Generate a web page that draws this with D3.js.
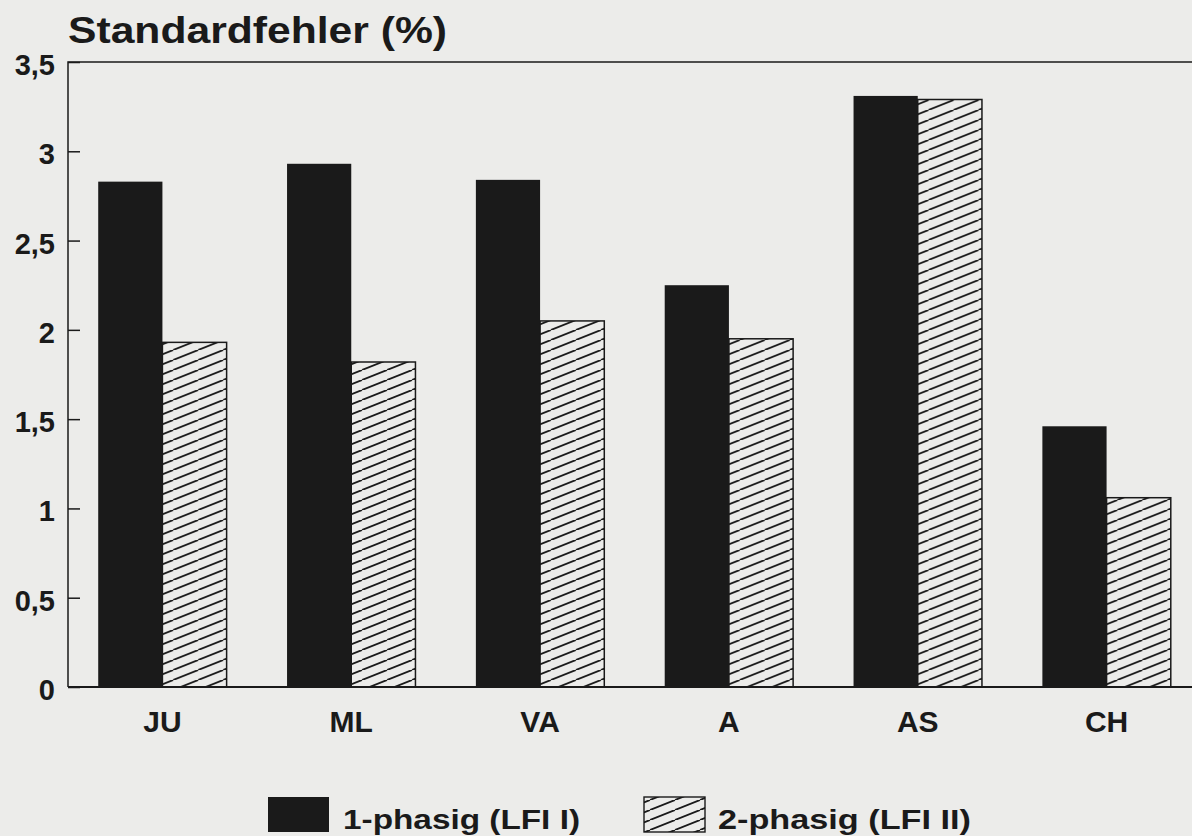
<!DOCTYPE html>
<html>
<head>
  <meta charset="UTF-8">
  <title>Standardfehler (%)</title>
  <script src="https://d3js.org/d3.v7.min.js"></script>
  <style>
    body { margin: 0; background: #ececea; }
    text { font-family: "Liberation Sans", Arial, sans-serif; font-weight: bold; fill: #1a1a1a; }
  </style>
</head>
<body>
  <div id="chart"></div>
  <script>
    // Data
    var categories = ["JU", "ML", "VA", "A", "AS", "CH"];
    var einphasig = [2.83, 2.93, 2.84, 2.25, 3.31, 1.46];   // 1-phasig (LFI I)
    var zweiphasig = [1.93, 1.82, 2.05, 1.95, 3.29, 1.06];  // 2-phasig (LFI II)
    var yTicks = [0, 0.5, 1, 1.5, 2, 2.5, 3, 3.5];
    var seriesNames = ["1-phasig (LFI I)", "2-phasig (LFI II)"];

    var width = 1192, height = 836;
    var plotLeft = 68, plotRight = 1201, plotTop = 62, plotBottom = 687;
    var ink = "#1a1a1a";

    var svg = d3.select("#chart").append("svg")
        .attr("width", width)
        .attr("height", height);

    // hatch pattern for the second series
    var defs = svg.append("defs");
    defs.append("pattern")
        .attr("id", "hatch")
        .attr("patternUnits", "userSpaceOnUse")
        .attr("width", 25)
        .attr("height", 10)
      .append("path")
        .attr("d", "M-25,10 L0,0 M0,10 L25,0 M25,10 L50,0")
        .attr("stroke", ink)
        .attr("stroke-width", 1.8);

    var x = d3.scaleBand()
        .domain(categories)
        .range([plotLeft, plotRight])
        .paddingInner(0.32)
        .paddingOuter(0.16);

    var xSub = d3.scaleBand()
        .domain([0, 1])
        .range([0, x.bandwidth()]);

    var y = d3.scaleLinear()
        .domain([0, 3.5])
        .range([plotBottom, plotTop]);

    var loc = d3.formatLocale({ decimal: ",", thousands: ".", grouping: [3], currency: ["", ""] });
    var fmt = loc.format("~g");

    // bars
    var groups = svg.append("g").selectAll("g")
        .data(categories)
        .enter().append("g")
        .attr("transform", function(d) { return "translate(" + x(d) + ",0)"; });

    groups.append("rect")
        .attr("x", xSub(0))
        .attr("y", function(d, i) { return y(einphasig[i]); })
        .attr("width", xSub.bandwidth())
        .attr("height", function(d, i) { return y(0) - y(einphasig[i]); })
        .attr("fill", ink);

    groups.append("rect")
        .attr("x", xSub(1))
        .attr("y", function(d, i) { return y(zweiphasig[i]); })
        .attr("width", xSub.bandwidth())
        .attr("height", function(d, i) { return y(0) - y(zweiphasig[i]); })
        .attr("fill", "url(#hatch)")
        .attr("stroke", ink)
        .attr("stroke-width", 1.5);

    // frame: left axis and top line
    svg.append("path")
        .attr("d", "M" + plotLeft + "," + plotBottom + "V" + plotTop + "H" + width)
        .attr("fill", "none")
        .attr("stroke", ink)
        .attr("stroke-width", 1.5);

    // baseline
    svg.append("line")
        .attr("x1", plotLeft).attr("x2", width)
        .attr("y1", plotBottom).attr("y2", plotBottom)
        .attr("stroke", ink)
        .attr("stroke-width", 2);

    // y axis with inward ticks
    var yAxis = svg.append("g")
        .attr("transform", "translate(" + plotLeft + ",0)")
        .call(d3.axisRight(y).tickValues(yTicks).tickSize(12).tickFormat(""));
    yAxis.select(".domain").remove();
    yAxis.selectAll("line").attr("stroke", ink).attr("stroke-width", 1.5);

    svg.append("g").selectAll("text")
        .data(yTicks)
        .enter().append("text")
        .attr("x", 55)
        .attr("y", function(d) { return y(d); })
        .attr("dy", "0.45em")
        .attr("text-anchor", "end")
        .style("font-size", "29px")
        .text(fmt);

    // category labels
    svg.append("g").selectAll("text")
        .data(categories)
        .enter().append("text")
        .attr("x", function(d) { return x(d) + x.bandwidth() / 2; })
        .attr("y", 732)
        .attr("text-anchor", "middle")
        .style("font-size", "30px")
        .text(function(d) { return d; });

    // title
    svg.append("text")
        .attr("x", 68)
        .attr("y", 43)
        .attr("textLength", 379)
        .attr("lengthAdjust", "spacingAndGlyphs")
        .style("font-size", "36px")
        .text("Standardfehler (%)");

    // legend
    var legend = [
      { x: 268, fill: ink, stroke: "none", tx: 343, len: 237 },
      { x: 644, fill: "url(#hatch)", stroke: ink, tx: 718, len: 253 }
    ];
    var lg = svg.append("g").selectAll("g")
        .data(legend)
        .enter().append("g");
    lg.append("rect")
        .attr("x", function(d) { return d.x; })
        .attr("y", 797)
        .attr("width", 61)
        .attr("height", 35)
        .attr("fill", function(d) { return d.fill; })
        .attr("stroke", function(d) { return d.stroke; })
        .attr("stroke-width", 1.4);
    lg.append("text")
        .attr("x", function(d) { return d.tx; })
        .attr("y", 829)
        .attr("textLength", function(d) { return d.len; })
        .attr("lengthAdjust", "spacingAndGlyphs")
        .style("font-size", "28px")
        .text(function(d, i) { return seriesNames[i]; });
  </script>
</body>
</html>
